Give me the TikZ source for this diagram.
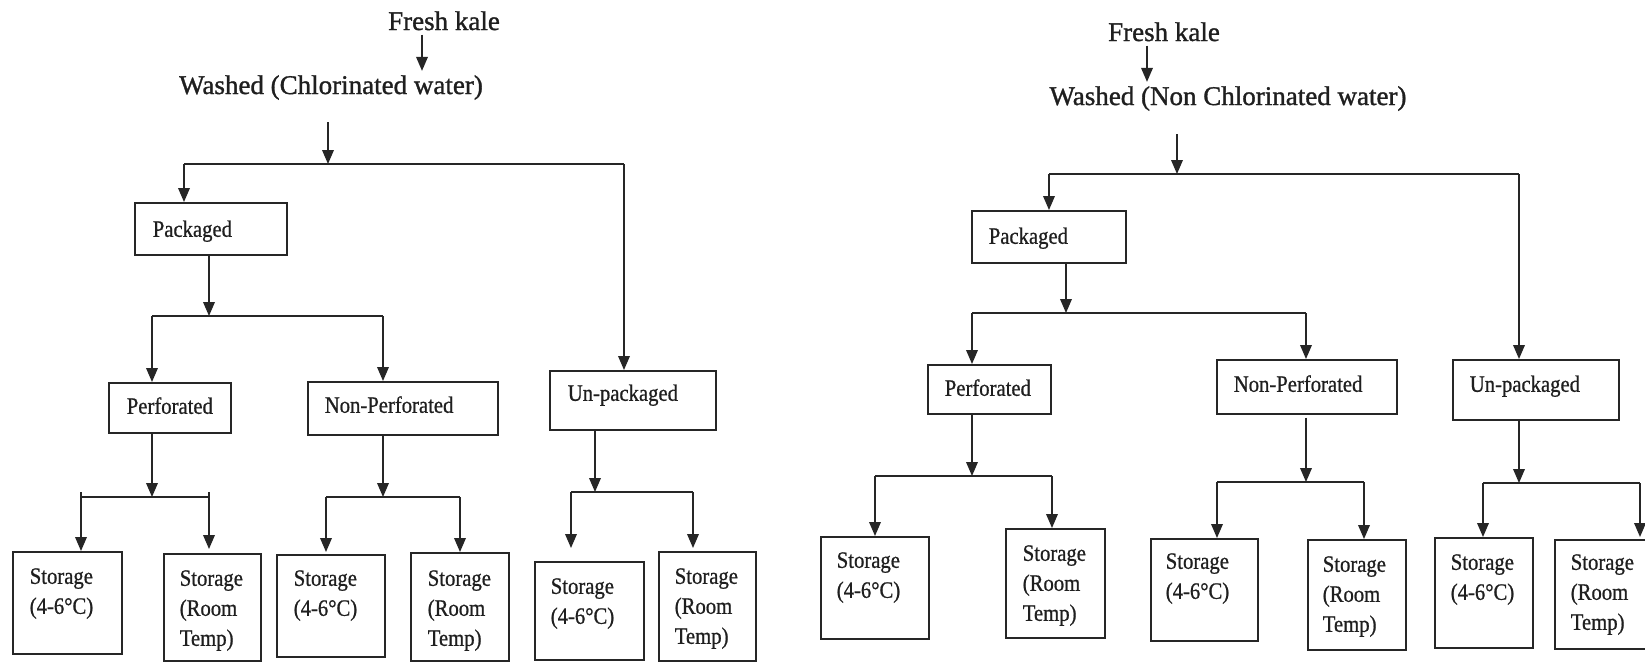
\documentclass[tikz,border=0pt]{standalone}
\usepackage{fontspec}
\setmainfont{Liberation Serif}
\newfontfamily\titlefont{Liberation Serif}[FakeBold=1.2]
\newfontfamily\boxfont{Liberation Serif}[FakeStretch=0.88,FakeBold=0.8]
\usetikzlibrary{arrows.meta}
\definecolor{linec}{gray}{0.15}
\definecolor{textc}{gray}{0.12}
\newcommand\bxt[5]{\parbox[c][\dimexpr#2pt/2\relax][t]{\dimexpr#1pt/2\relax}{\boxfont\fontsize{11.75pt}{15pt}\selectfont\color{textc}\parindent=0pt\leftskip=\dimexpr#3pt/2\relax\rightskip=0pt plus 1fil\rule{0pt}{\dimexpr#4pt/2\relax}#5}}
\tikzset{
  box/.style={draw=linec, line width=0.8pt, inner sep=0pt, anchor=north west},
  title/.style={inner xsep=0pt, inner ysep=2pt, anchor=base, text=textc, font=\titlefont\fontsize{13.5pt}{16pt}\selectfont},
  conn/.style={draw=linec, line width=0.8pt},
  arr/.style={conn, -{Triangle[length=7pt,width=5.8pt]}}
}
\begin{document}
\begin{tikzpicture}[x=0.5pt,y=-0.5pt]
\useasboundingbox (0,0) rectangle (1645,661);
\clip (0,0) rectangle (1645,661);
% ---------------- left diagram ----------------
\node[title] (fk1) at (444,30) {Fresh kale};
\node[title] (w1) at (331,94) {Washed (Chlorinated water)};
\node[box] (pk1) at (134,202) {\bxt{152}{52}{18}{34}{Packaged}};
\node[box] (up1) at (549,370) {\bxt{166}{59}{18}{30}{Un-packaged}};
\node[box] (pf1) at (108,382) {\bxt{122}{50}{18}{31}{Perforated}};
\node[box] (np1) at (307,381) {\bxt{190}{53}{17}{31}{Non-Perforated}};
\node[box] (s1) at (12,551) {\bxt{109}{102}{17}{32}{Storage\\(4-6°C)}};
\node[box] (s2) at (163,553) {\bxt{97}{107}{16}{32}{Storage\\(Room\\Temp)}};
\node[box] (s3) at (276,554) {\bxt{108}{102}{17}{31}{Storage\\(4-6°C)}};
\node[box] (s4) at (410,552) {\bxt{98}{108}{17}{33}{Storage\\(Room\\Temp)}};
\node[box] (s5) at (534,561) {\bxt{109}{98}{16}{32}{Storage\\(4-6°C)}};
\node[box] (s6) at (658,551) {\bxt{97}{109}{16}{32}{Storage\\(Room\\Temp)}};
\coordinate (j1) at (328,164); \coordinate (j1l) at (184,164); \coordinate (j1r) at (624,164);
\coordinate (j2) at (209,316); \coordinate (j2l) at (152,316); \coordinate (j2r) at (383,316);
\coordinate (j3) at (152,497); \coordinate (j3l) at (81,497);  \coordinate (j3r) at (209,497);
\coordinate (j4) at (383,497); \coordinate (j4l) at (326,497); \coordinate (j4r) at (460,497);
\coordinate (j5) at (595,492); \coordinate (j5l) at (571,492); \coordinate (j5r) at (693,492);
\draw[arr] ([xshift=-11pt]fk1.south) -- ([xshift=-11pt]fk1.south |- w1.north);
\draw[arr] (w1.south -| j1) ++(0,18) -- (j1);
\draw[conn] (j1l) -- (j1r);
\draw[arr] (j1l) -- (j1l |- pk1.north);
\draw[arr] (j1r) -- (j1r |- up1.north);
\draw[arr] (pk1.south -| j2) -- (j2);
\draw[conn] (j2l) -- (j2r);
\draw[arr] (j2l) -- (j2l |- pf1.north);
\draw[arr] (j2r) -- (j2r |- np1.north);
\draw[arr] (pf1.south -| j3) -- (j3);
\draw[conn] (j3l) ++(0,-5) -- (j3l) -- (j3r) -- ++(0,-5);
\draw[arr] (j3l) -- (j3l |- s1.north);
\draw[arr] (j3r) -- ([yshift=2pt]j3r |- s2.north);
\draw[arr] (np1.south -| j4) -- (j4);
\draw[conn] (j4l) -- (j4r);
\draw[arr] (j4l) -- ([yshift=1pt]j4l |- s3.north);
\draw[arr] (j4r) -- (j4r |- s4.north);
\draw[arr] (up1.south -| j5) -- (j5);
\draw[conn] (j5l) -- (j5r);
\draw[arr] (j5l) -- ([yshift=6.5pt]j5l |- s5.north);
\draw[arr] (j5r) -- ([yshift=1.5pt]j5r |- s6.north);
% ---------------- right diagram ----------------
\node[title] (fk2) at (1164,41) {Fresh kale};
\node[title] (w2) at (1228,105) {Washed (Non Chlorinated water)};
\node[box] (pk2) at (971,210) {\bxt{154}{52}{17}{33}{Packaged}};
\node[box] (pf2) at (927,364) {\bxt{123}{49}{17}{31}{Perforated}};
\node[box] (np2) at (1216,359) {\bxt{180}{54}{17}{32}{Non-Perforated}};
\node[box] (up2) at (1452,359) {\bxt{166}{60}{17}{32}{Un-packaged}};
\node[box] (r1) at (820,536) {\bxt{108}{102}{16}{31}{Storage\\(4-6°C)}};
\node[box] (r2) at (1005,528) {\bxt{99}{109}{17}{32}{Storage\\(Room\\Temp)}};
\node[box] (r3) at (1150,538) {\bxt{107}{102}{15}{30}{Storage\\(4-6°C)}};
\node[box] (r4) at (1307,539) {\bxt{98}{110}{15}{32}{Storage\\(Room\\Temp)}};
\node[box] (r5) at (1434,537) {\bxt{98}{110}{16}{32}{Storage\\(4-6°C)}};
\node[box] (r6) at (1554,539) {\bxt{110}{109}{16}{30}{Storage\\(Room\\Temp)}};
\coordinate (j6) at (1177,174); \coordinate (j6l) at (1049,174); \coordinate (j6r) at (1519,174);
\coordinate (j7) at (1066,313); \coordinate (j7l) at (972,313); \coordinate (j7r) at (1306,313);
\coordinate (j8) at (972,476); \coordinate (j8l) at (875,476); \coordinate (j8r) at (1052,476);
\coordinate (j9) at (1306,482); \coordinate (j9l) at (1217,482); \coordinate (j9r) at (1364,482);
\coordinate (j10) at (1519,483); \coordinate (j10l) at (1483,483); \coordinate (j10r) at (1640,483);
\draw[arr] ([xshift=-8.5pt]fk2.south) -- ([xshift=-8.5pt]fk2.south |- w2.north);
\draw[arr] (w2.south -| j6) ++(0,19) -- (j6);
\draw[conn] (j6l) -- (j6r);
\draw[arr] (j6l) -- (j6l |- pk2.north);
\draw[arr] (j6r) -- (j6r |- up2.north);
\draw[arr] (pk2.south -| j7) -- (j7);
\draw[conn] (j7l) -- (j7r);
\draw[arr] (j7l) -- (j7l |- pf2.north);
\draw[arr] (j7r) -- (j7r |- np2.north);
\draw[arr] (pf2.south -| j8) -- (j8);
\draw[conn] (j8l) -- (j8r);
\draw[arr] (j8l) -- (j8l |- r1.north);
\draw[arr] (j8r) -- (j8r |- r2.north);
\draw[arr] (np2.south -| j9) ++(0,3) -- (j9);
\draw[conn] (j9l) -- (j9r);
\draw[arr] (j9l) -- (j9l |- r3.north);
\draw[arr] (j9r) -- (j9r |- r4.north);
\draw[arr] (up2.south -| j10) -- (j10);
\draw[conn] (j10l) -- (j10r);
\draw[arr] (j10l) -- (j10l |- r5.north);
\draw[arr] (j10r) -- ([yshift=1pt]j10r |- r6.north);
\end{tikzpicture}
\end{document}
